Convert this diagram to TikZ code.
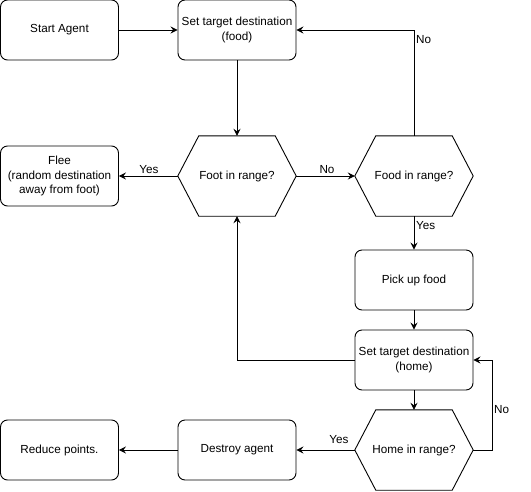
\documentclass[tikz,border=0pt]{standalone}
\usepackage{fontspec}
\setmainfont{Liberation Sans}
\usetikzlibrary{arrows.meta}
\begin{document}
\begin{tikzpicture}[x=1pt,y=-1pt,
  every node/.style={font=\fontsize{11.7}{14.5}\selectfont},
  box/.style={draw, rounded corners=7pt, minimum width=118pt, minimum height=60pt, inner sep=0pt, align=center, line width=0.9pt},
  hexa/.style={minimum width=118pt, minimum height=80pt, inner sep=0pt, align=center},
  hexline/.style={draw, line width=0.9pt, line join=miter},
  conn/.style={draw, line width=0.9pt, -{Stealth[length=7pt,width=7pt,inset=2.5pt]}},
  lab/.style={inner sep=0pt}
]
\useasboundingbox (0,0) rectangle (531,491);

\node[box] (start) at (59.5,30) {Start Agent};
\node[box] (setfood) at (237,30) {Set target destination\\(food)};
\node[hexa] (foot) at (237,176) {Foot in range?};
\node[hexa] (food) at (414,176) {Food in range?};
\node[box] (flee) at (59.5,176) {Flee\\(random destination\\away from foot)};
\node[box] (pick) at (414,280) {Pick up food};
\node[box] (sethome) at (414,360) {Set target destination\\(home)};
\node[hexa] (home) at (414,450) {Home in range?};
\node[box] (destroy) at (237,450) {Destroy agent};
\node[box] (reduce) at (59.5,450) {Reduce points.};

\foreach \h in {foot,food,home}{
  \draw[hexline] (\h.west) -- ([xshift=21pt]\h.north west) -- ([xshift=-21pt]\h.north east)
    -- (\h.east) -- ([xshift=-21pt]\h.south east) -- ([xshift=21pt]\h.south west) -- cycle;
}

\coordinate (homeR) at (492,450);

\path[conn] (start) -- (setfood);
\path[conn] (setfood) -- (foot);
\path[conn] (foot.west) -- (flee.east);
\path[conn] (foot.east) -- (food.west);
\path[conn] (food.north) |- (setfood.east);
\path[conn] (food.south) -- (pick.north);
\path[conn] (pick) -- (sethome);
\path[conn] (sethome.west) -| (foot.south);
\path[conn] (sethome.south) -- (home.north);
\path[conn] (home.east) -- (homeR) |- (sethome.east);
\path[conn] (home.west) -- (destroy.east);
\path[conn] (destroy) -- (reduce);

\node[lab, anchor=west] (l1) at (416,40) {No};
\node[lab] (l2) at (149,170) {Yes};
\node[lab] (l3) at (327,170) {No};
\node[lab, anchor=west] (l4) at (416,226) {Yes};
\node[lab, anchor=west] (l5) at (494,410) {No};
\node[lab] (l6) at (339,440) {Yes};
\end{tikzpicture}
\end{document}
